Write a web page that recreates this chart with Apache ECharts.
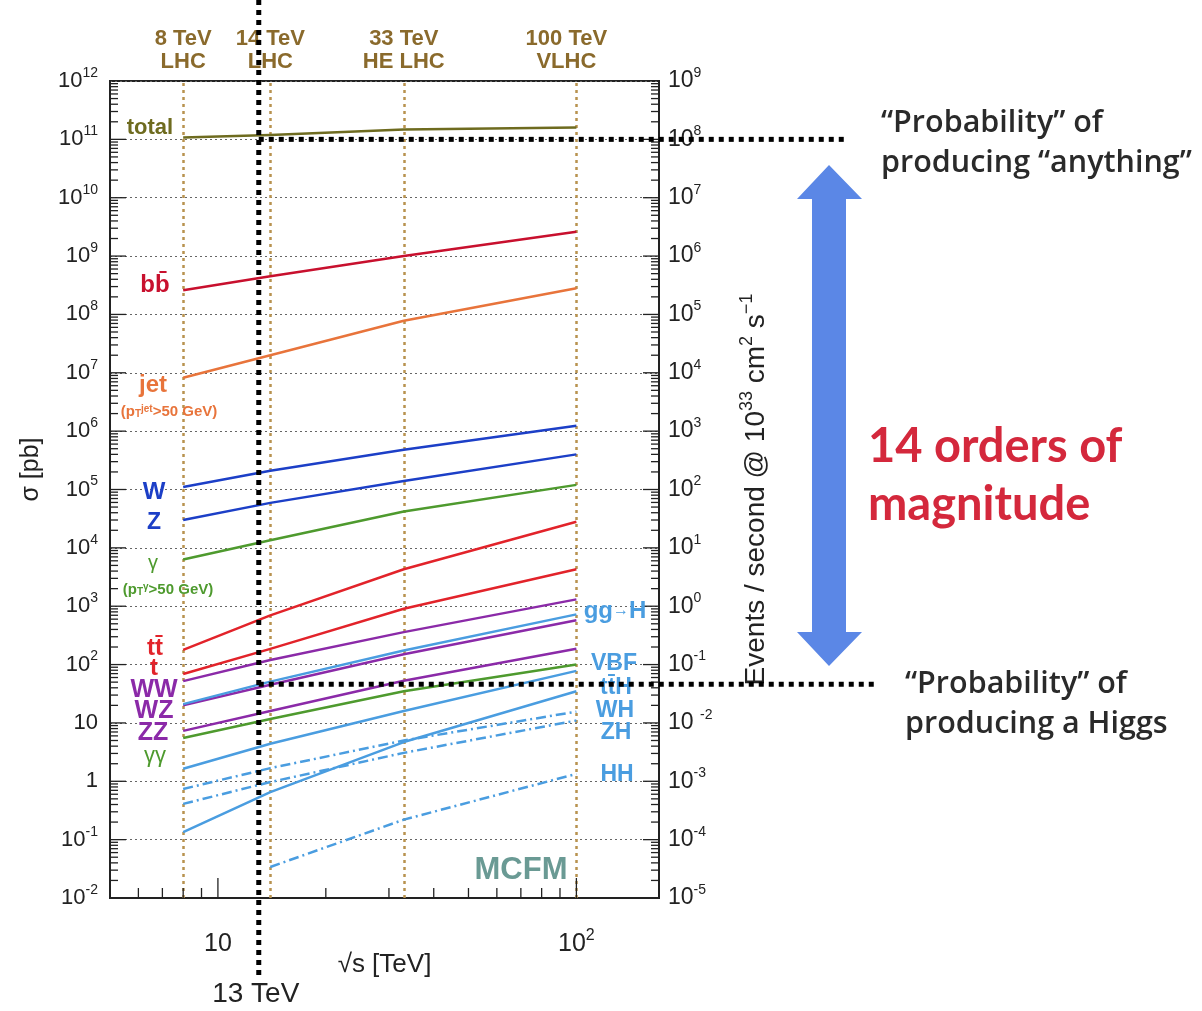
<!DOCTYPE html>
<html><head><meta charset="utf-8">
<script src="https://cdn.jsdelivr.net/npm/echarts@6/dist/echarts.min.js"></script>
<style>html,body{margin:0;padding:0;background:#fff}#c{width:1202px;height:1011px}</style>
</head><body><div id="c"></div>
<script>
// ---- data (sqrt(s) in TeV, cross sections in pb) ----
const energies = [8, 14, 33, 100];
const hhEnergies = [14, 33, 100];
const total = [1.08e11, 1.19e11, 1.47e11, 1.6e11];
const bbbar = [2.6e8, 4.5e8, 1.0e9, 2.6e9];
const jet = [8.2e6, 2.0e7, 7.8e7, 2.8e8];
const W = [1.1e5, 2.1e5, 4.8e5, 1.24e6];
const Z = [3.0e4, 5.9e4, 1.4e5, 4.0e5];
const gammaJet = [6.3e3, 1.35e4, 4.2e4, 1.2e5];
const ttbar = [179, 695, 4.3e3, 2.8e4];
const singleTop = [69, 186, 906, 4.3e3];
const WW = [52, 120, 360, 1.31e3];
const WZ = [20, 45, 150, 575];
const ZZ = [7.3, 16, 53, 186];
const gammagamma = [5.5, 11.7, 35, 100];
const ggH = [21, 51, 174, 725];
const VBF = [1.64, 4.4, 16, 78];
const ttH = [0.135, 0.65, 4.7, 35];
const WH = [0.74, 1.68, 5.0, 15.6];
const ZH = [0.41, 0.97, 3.07, 11];
const HH = [0.034, 0.22, 1.34];

// collider reference energies
const colliderEnergies = [8, 14, 33, 100];
const colliderLabels = ['8 TeV\nLHC', '14 TeV\nLHC', '33 TeV\nHE LHC', '100 TeV\nVLHC'];
const run2Energy = 13;          // TeV
const higgsXsec13 = 46;         // pb, Higgs level at 13 TeV
const totalXsecLevel = 1e11;    // pb

// axis ranges / ticks
const xMin = 5, xMax = 170;
const xTickValues = [6, 7, 8, 9, 10, 20, 30, 40, 50, 60, 70, 80, 90, 100];
const xMajorTicks = [10, 100];
const xLabelValues = [10, 100];
const xLabelTexts = ['10', '10{sup|2}'];
const yLeftMin = 1e-2, yLeftMax = 1e12;
const yLeftExps = [12, 11, 10, 9, 8, 7, 6, 5, 4, 3, 2, 1, 0, -1, -2];
const yLeftLabels = ['10{sup|12}', '10{sup|11}', '10{sup|10}', '10{sup|9}', '10{sup|8}', '10{sup|7}', '10{sup|6}', '10{sup|5}', '10{sup|4}', '10{sup|3}', '10{sup|2}', '10', '1', '10{sup|-1}', '10{sup|-2}'];
const yRightMin = 1e-5, yRightMax = 1e9;
const yRightExps = [9, 8, 7, 6, 5, 4, 3, 2, 1, 0, -1, -2, -3, -4, -5];
const yRightLabels = ['10{sup|9}', '10{sup|8}', '10{sup|7}', '10{sup|6}', '10{sup|5}', '10{sup|4}', '10{sup|3}', '10{sup|2}', '10{sup|1}', '10{sup|0}', '10{sup|-1}', '10 {sup|-2}', '10{sup|-3}', '10{sup|-4}', '10{sup|-5}'];

const FONT = '"Liberation Sans", Arial, Helvetica, sans-serif';
const supRich = { sup: { fontSize: 14, lineHeight: 18, verticalAlign: 'top', fontFamily: FONT, color: '#222' } };

function pairs(xs, ys) { return xs.map((x, i) => [x, ys[i]]); }
function expLabel(v, exps, labels) {
  const e = Math.round(Math.log10(v));
  if (Math.abs(Math.log10(v) - e) > 1e-6) return '';
  const i = exps.indexOf(e);
  return i >= 0 ? labels[i] : '';
}

const C = {
  total: '#6e6b1f', bb: '#c8102e', jet: '#e8743b', WZ: '#1c3fc7', green: '#4e9a2e',
  top: '#e2232a', purple: '#8b2aa8', higgs: '#4a9de0'
};

function line(name, xs, ys, color, dash) {
  return {
    name, type: 'line', data: pairs(xs, ys), symbol: 'none', silent: true, smooth: false,
    lineStyle: { color, width: 2.5, type: dash || 'solid', join: 'round' }, z: 3
  };
}
const dashDot = [10, 4, 2, 4];

const series = [
  Object.assign(line('total', energies, total, C.total), {
    markLine: {
      silent: true, symbol: ['none', 'none'], z: 2,
      lineStyle: { color: '#b8924f', width: 2.5, type: [3, 4] },
      label: { show: true, position: 'end', distance: 8, color: '#8a6a2c', fontWeight: 'bold', fontSize: 22, lineHeight: 23, fontFamily: FONT },
      data: colliderEnergies.map((e, i) => ({ xAxis: e, label: { formatter: colliderLabels[i], offset: i === 3 ? [-10, 0] : [0, 0] } }))
    }
  }),
  line('bb', energies, bbbar, C.bb),
  line('jet', energies, jet, C.jet),
  line('W', energies, W, C.WZ),
  line('Z', energies, Z, C.WZ),
  line('gamma', energies, gammaJet, C.green),
  line('ttbar', energies, ttbar, C.top),
  line('t', energies, singleTop, C.top),
  line('WW', energies, WW, C.purple),
  line('WZ', energies, WZ, C.purple),
  line('ZZ', energies, ZZ, C.purple),
  line('gammagamma', energies, gammagamma, C.green),
  line('ggH', energies, ggH, C.higgs),
  line('VBF', energies, VBF, C.higgs),
  line('ttH', energies, ttH, C.higgs),
  line('WH', energies, WH, C.higgs, dashDot),
  line('ZH', energies, ZH, C.higgs, dashDot),
  line('HH', hhEnergies, HH, C.higgs, dashDot)
];

const chart = echarts.init(document.getElementById('c'), null, { renderer: 'canvas' });
const option = {
  animation: false,
  backgroundColor: '#ffffff',
  textStyle: { fontFamily: FONT },
  grid: { left: 110, right: 543, top: 81, bottom: 113, show: true, borderColor: '#222', borderWidth: 2, backgroundColor: 'transparent' },
  xAxis: {
    type: 'log', logBase: 10, min: xMin, max: xMax,
    axisLine: { show: true, lineStyle: { color: '#222', width: 2 } },
    axisTick: { show: false }, minorTick: { show: false }, splitLine: { show: false },
    axisLabel: {
      margin: 30, fontSize: 25, lineHeight: 32, color: '#222', fontFamily: FONT, showMinLabel: true, showMaxLabel: true,
      rich: { sup: { fontSize: 16, lineHeight: 18, verticalAlign: 'top', fontFamily: FONT, color: '#222' } },
      formatter: v => { const i = xLabelValues.findIndex(t => Math.abs(t - v) / t < 1e-6); return i >= 0 ? xLabelTexts[i] : ''; }
    },
    name: '√s [TeV]', nameLocation: 'middle', nameGap: 54, nameMoveOverlap: false,
    nameTextStyle: { fontSize: 26, color: '#222', fontFamily: FONT }
  },
  yAxis: [
    {
      type: 'log', logBase: 10, min: yLeftMin, max: yLeftMax, interval: 1, splitNumber: 14, position: 'left',
      axisLine: { show: true, lineStyle: { color: '#222', width: 2 } },
      axisTick: { show: false }, minorTick: { show: false },
      splitLine: { show: true, lineStyle: { color: '#666', width: 1, type: [2, 3] } },
      axisLabel: { margin: 12, fontSize: 22, lineHeight: 30, color: '#222', fontFamily: FONT, rich: supRich,
        formatter: v => expLabel(v, yLeftExps, yLeftLabels) },
      name: 'σ [pb]', nameLocation: 'middle', nameGap: 66,
      nameTextStyle: { fontSize: 25, color: '#222', fontFamily: FONT, padding: [0, 0, 0, 40] }
    },
    {
      type: 'log', logBase: 10, min: yRightMin, max: yRightMax, interval: 1, splitNumber: 14, position: 'right',
      axisLine: { show: true, lineStyle: { color: '#222', width: 2 } },
      axisTick: { show: false }, minorTick: { show: false }, splitLine: { show: false },
      axisLabel: { margin: 9, fontSize: 23, lineHeight: 30, color: '#222', fontFamily: FONT, rich: supRich,
        formatter: v => expLabel(v, yRightExps, yRightLabels) },
      name: 'Events / second @ 10{sup|33} cm{sup|2} s{sup|−1}', nameLocation: 'middle', nameGap: 79,
      nameTextStyle: { fontSize: 28, lineHeight: 36, color: '#222', fontFamily: FONT,
        rich: { sup: { fontSize: 18, lineHeight: 22, verticalAlign: 'top', fontFamily: FONT, color: '#222' } } }
    }
  ],
  series
};
chart.setOption(option);

// ---- decorations computed through the chart's own scales ----
const X = v => chart.convertToPixel({ xAxisIndex: 0 }, v);
const YL = v => chart.convertToPixel({ yAxisIndex: 0 }, v);
const YR = v => chart.convertToPixel({ yAxisIndex: 1 }, v);
const g = [];
const tickStyle = { stroke: '#222', lineWidth: 1.3 };
const xl = X(xMin), xr = X(xMax), yb = YL(yLeftMin);
// y ticks (left & right)
for (let d = -2; d <= 11; d++) {
  for (let k = 1; k <= 9; k++) {
    const y = YL(k * Math.pow(10, d));
    const len = k === 1 ? 16 : 8;
    g.push({ type: 'line', silent: true, z: 10, shape: { x1: xl, y1: y, x2: xl + len, y2: y }, style: tickStyle });
  }
}
for (let d = -5; d <= 8; d++) {
  for (let k = 1; k <= 9; k++) {
    const y = YR(k * Math.pow(10, d));
    const len = k === 1 ? 16 : 8;
    g.push({ type: 'line', silent: true, z: 10, shape: { x1: xr, y1: y, x2: xr - len, y2: y }, style: tickStyle });
  }
}
xTickValues.forEach(v => {
  const x = X(v);
  const len = xMajorTicks.includes(v) ? 20 : 10;
  g.push({ type: 'line', silent: true, z: 10, shape: { x1: x, y1: yb, x2: x, y2: yb - len }, style: tickStyle });
});

// black dotted annotation lines
const dot = { stroke: '#000', lineWidth: 5, lineDash: [5, 5] };
const x13 = X(run2Energy);
g.push({ type: 'line', silent: true, z: 60, shape: { x1: x13, y1: 0, x2: x13, y2: 976 }, style: dot });
g.push({ type: 'line', silent: true, z: 60, shape: { x1: x13, y1: YL(totalXsecLevel), x2: 847, y2: YL(totalXsecLevel) }, style: dot });
g.push({ type: 'line', silent: true, z: 60, shape: { x1: x13, y1: YL(higgsXsec13), x2: 876, y2: YL(higgsXsec13) }, style: dot });

// blue double arrow
g.push({ type: 'polygon', silent: true, z: 5,
  shape: { points: [[829, 165], [862, 199], [846, 199], [846, 632], [862, 632], [829, 666], [797, 632], [812, 632], [812, 199], [797, 199]] },
  style: { fill: '#5b87e6' } });

function txt(text, x, y, o) {
  o = o || {};
  g.push({ type: 'text', silent: true, z: 40, x, y,
    style: Object.assign({ text, fill: '#222', fontSize: 22, fontWeight: 'bold', fontFamily: FONT,
      align: 'center', verticalAlign: 'middle', textAlign: 'center', textVerticalAlign: 'middle' }, o) });
}
// labels in plot
txt('total', 150, 128, { fill: '#6e6b1f', fontSize: 22 });
txt('bb\u0304', 155, 285, { fill: C.bb, fontSize: 24 });
txt('jet', 153, 385, { fill: C.jet, fontSize: 24 });
txt('(p{sub|T}{sup|jet}>50 GeV)', 169, 412, { fill: C.jet, fontSize: 15,
  rich: { sub: { fontSize: 10, verticalAlign: 'bottom', lineHeight: 12, fill: C.jet, fontWeight: 'bold' }, sup: { fontSize: 10, verticalAlign: 'top', lineHeight: 12, fill: C.jet, fontWeight: 'bold' } } });
txt('W', 154, 492, { fill: C.WZ, fontSize: 24 });
txt('Z', 154, 523, { fill: C.WZ, fontSize: 23 });
txt('γ', 153, 563, { fill: C.green, fontSize: 20, fontWeight: 'normal' });
txt('(p{sub|T}{sup|γ}>50 GeV)', 168, 590, { fill: C.green, fontSize: 15,
  rich: { sub: { fontSize: 10, verticalAlign: 'bottom', lineHeight: 12, fill: C.green, fontWeight: 'bold' }, sup: { fontSize: 10, verticalAlign: 'top', lineHeight: 12, fill: C.green, fontWeight: 'bold' } } });
txt('tt\u0304', 155, 648, { fill: C.top, fontSize: 24 });
txt('t', 154, 668, { fill: C.top, fontSize: 24 });
txt('WW', 154, 690, { fill: C.purple, fontSize: 25 });
txt('WZ', 154, 711, { fill: C.purple, fontSize: 25 });
txt('ZZ', 153, 733, { fill: C.purple, fontSize: 25 });
txt('γγ', 155, 756, { fill: C.green, fontSize: 22, fontWeight: 'normal' });
txt('gg{a|→}H', 615, 611, { fill: C.higgs, fontSize: 24, rich: { a: { fontSize: 16, fill: C.higgs, fontWeight: 'bold' } } });
txt('VBF', 614, 664, { fill: C.higgs, fontSize: 23 });
txt('tt\u0304H', 616, 688, { fill: C.higgs, fontSize: 23 });
txt('WH', 615, 711, { fill: C.higgs, fontSize: 23 });
txt('ZH', 616, 733, { fill: C.higgs, fontSize: 23 });
txt('HH', 617, 775, { fill: C.higgs, fontSize: 23 });
txt('MCFM', 521, 870, { fill: '#6a9a94', fontSize: 31 });
txt('13 TeV', x13 - 3, 994, { fontSize: 28, fontWeight: 'normal' });

// annotations on the right
const ANN = '"Open Sans", "Noto Sans", sans-serif';
txt('“Probability” of\nproducing “anything”', 881, 143, { fontSize: 30.5, fontWeight: 600, fontFamily: ANN, lineHeight: 40, align: 'left', textAlign: 'left', fill: '#2a2a2a' });
txt('“Probability” of\nproducing a Higgs', 905, 704, { fontSize: 30.5, fontWeight: 600, fontFamily: ANN, lineHeight: 40, align: 'left', textAlign: 'left', fill: '#2a2a2a' });
txt('14 orders of\nmagnitude', 868, 476, { fontSize: 47, fontWeight: 'bold', fontFamily: 'Lato, sans-serif', lineHeight: 58, align: 'left', textAlign: 'left', fill: '#d4283c' });

chart.setOption({ graphic: { elements: g } });
</script>
</body></html>
